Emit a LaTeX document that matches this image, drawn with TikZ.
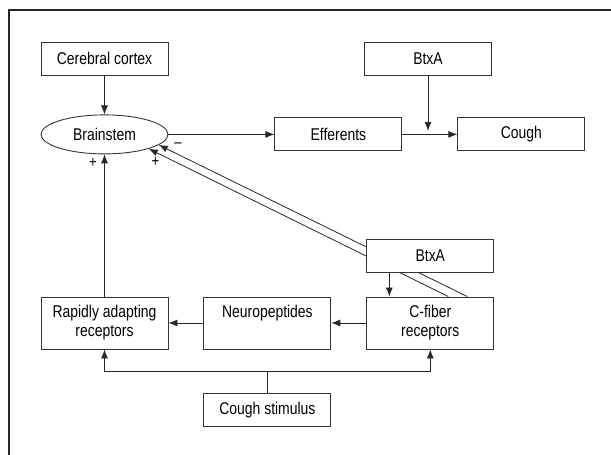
\documentclass[tikz,border=0pt]{standalone}
\usepackage{fontspec}
\setmainfont{Liberation Sans}[FakeStretch=0.82]
\usetikzlibrary{positioning,calc,shapes.geometric,arrows.meta}

\begin{document}
\begin{tikzpicture}[
x=1pt,y=1pt,
font=\fontsize{17}{19}\selectfont,
box/.style={
draw=black!80,
line width=0.9pt,
align=center,
inner sep=2pt,
minimum width=127pt,
minimum height=33pt
},
tallbox/.style={
box,
minimum height=52pt
},
stem/.style={
ellipse,
draw=black!80,
line width=0.9pt,
inner sep=0pt,
minimum width=127pt,
minimum height=39pt
},
line/.style={
line width=0.8pt,
black!85
},
arrow/.style={
line,
-{Latex[length=9pt,width=7pt]}
},
sign/.style={
font=\fontsize{16}{16}\selectfont,
inner sep=0pt
}
]

\useasboundingbox (0,0) rectangle (611,455);
\draw[line width=1.6pt, black!85] (9,0) -- (9,445) -- (611,445);


% Upper row

\node (cortex) [box] at (104.5,396.5)
{Cerebral cortex};

\node (brainstem) [stem, below=39pt of cortex]
{Brainstem};

\node (efferents) [box, right=106pt of brainstem]
{Efferents};

\node (cough) [box, right=55pt of efferents]
{Cough};

\node (btxtop) [box] at (428,396)
{BtxA};


\draw[arrow] (cortex) -- (brainstem);
\draw[arrow] (brainstem) -- (efferents);
\draw[arrow] (efferents) -- (cough);
\draw[arrow, shorten >=3.5pt] (btxtop) -- (btxtop |- efferents);


% Receptors

\node (rapid) [tallbox] at (104.5,132)
{Rapidly adapting\\receptors};

\node (neuro) [tallbox, right=35pt of rapid]
{Neuropeptides\\\vphantom{p}};

\node (cfiber) [tallbox, right=35pt of neuro]
{C-fiber\\receptors};

\node (stimulus) [box, below=44pt of neuro]
{Cough stimulus};


\draw[arrow] (rapid) -- (brainstem);
\draw[arrow] (cfiber) -- (neuro);
\draw[arrow] (neuro) -- (rapid);

\coordinate (split) at ($(stimulus.north)+(0,22)$);
\draw[line] (stimulus) -- (split);
\draw[arrow] (split) -| (rapid);
\draw[arrow] (split) -| (cfiber);


% Feedback to brainstem (runs behind the lower BtxA)

\draw[arrow] ([xshift=37pt]cfiber.north) -- (brainstem.-11);
\draw[arrow] ([xshift=18pt]cfiber.north) -- (brainstem.-18);

\node (btxlow) [box, fill=white, above=24pt of cfiber]
{BtxA};

\draw[arrow] ([xshift=-41pt]btxlow.south) -- ([xshift=-41pt]cfiber.north);


% Signs

\node (plusa) [sign] at (93,292.5) {+};
\node (plusb) [sign] at (155.5,293) {+};
\node (minus) [sign] at (178,309.3) {–};


\end{tikzpicture}
\end{document}
